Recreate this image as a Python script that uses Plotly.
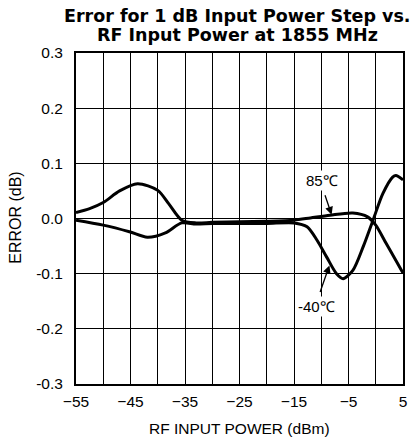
import plotly.graph_objects as go

# Measured error for a 1 dB input power step, RF input power sweep at 1855 MHz
rf_in_85c = [-55, -52.5, -50, -47, -43.7, -40, -38, -35.6, -33, -30, -25, -20, -15, -12,
             -8.4, -4.2, -1.5, 0, 1.9, 3.7, 5]
err_85c = [0.011, 0.018, 0.029, 0.05, 0.063, 0.051, 0.027, -0.003, -0.008, -0.007, -0.006,
           -0.005, -0.003, 0.001, 0.006, 0.01, 0.003, -0.012, -0.045, -0.076, -0.099]

rf_in_m40c = [-55, -50, -45.2, -41.9, -38.6, -35.6, -33, -30, -25, -20, -15, -12.6, -10.8,
              -9, -7.2, -6, -4.2, -2.3, -0.5, 1.3, 3.1, 3.7, 5]
err_m40c = [-0.003, -0.012, -0.024, -0.034, -0.026, -0.008, -0.01, -0.009, -0.009, -0.009,
            -0.008, -0.015, -0.039, -0.07, -0.1, -0.109, -0.094, -0.051, -0.003, 0.045,
            0.075, 0.078, 0.07]

x_ticks = [-55, -45, -35, -25, -15, -5, 5]
y_ticks = [-0.3, -0.2, -0.1, 0.0, 0.1, 0.2, 0.3]
y_tick_text = ["-0.3", "-0.2", "-0.1", "0.0", "0.1", "0.2", "0.3"]

FONT = "Liberation Sans"
TITLE_FONT = "DejaVu Sans"

fig = go.Figure()
for xs, ys in [(rf_in_85c, err_85c), (rf_in_m40c, err_m40c)]:
    fig.add_trace(go.Scatter(
        x=xs, y=ys, mode="lines",
        line=dict(color="black", width=3, shape="spline", smoothing=0.8),
        showlegend=False, hoverinfo="skip",
    ))

fig.update_layout(
    width=419, height=440,
    margin=dict(l=76, r=12, t=53, b=56),
    paper_bgcolor="white", plot_bgcolor="white",
    font=dict(family=FONT, size=15.5, color="black"),
)

fig.update_xaxes(
    range=[-55, 5], tickvals=x_ticks, showgrid=True, gridcolor="black", gridwidth=1,
    minor=dict(dtick=5, tick0=-55, showgrid=True, gridcolor="black", gridwidth=1),
    showline=True, linecolor="black", linewidth=2, mirror=True, ticks="",
    zeroline=False, ticklabelstandoff=2,
    tickfont=dict(family=FONT, size=15.5, color="black"),
)
fig.update_yaxes(
    range=[-0.3, 0.3], tickvals=y_ticks, ticktext=y_tick_text,
    showgrid=True, gridcolor="black", gridwidth=1,
    showline=True, linecolor="black", linewidth=2, mirror=True, ticks="",
    zeroline=False, ticklabelstandoff=8,
    tickfont=dict(family=FONT, size=15.5, color="black"),
)

# Two-line bold title
for text, ypos in [("Error for 1 dB Input Power Step vs.", 1.112),
                   ("RF Input Power at 1855 MHz", 1.0544)]:
    fig.add_annotation(
        xref="paper", yref="paper", x=0.4925, y=ypos, xanchor="center", yanchor="middle",
        text=f"<b>{text}</b>", showarrow=False,
        font=dict(family=TITLE_FONT, size=17.5, color="black"),
    )

# Axis titles
fig.add_annotation(xref="paper", yref="paper", x=0.4985, y=-0.133,
                   xanchor="center", yanchor="middle", text="RF INPUT POWER (dBm)",
                   showarrow=False, font=dict(family=FONT, size=15.5, color="black"))
fig.add_annotation(xref="paper", yref="paper", x=-0.1873, y=0.5015,
                   xanchor="center", yanchor="middle", text="ERROR (dB)", textangle=-90,
                   showarrow=False, font=dict(family=FONT, size=16, color="black"))

# Temperature labels with pointer arrows
fig.add_annotation(x=-9.9, y=0.069, text="85\u2103", showarrow=False,
                   font=dict(family=FONT, size=15, color="black"), bgcolor="white")
fig.add_annotation(x=-8.1, y=0.007, ax=-9.4, ay=0.045, axref="x", ayref="y",
                   text="", showarrow=True, arrowhead=2, arrowsize=1.2,
                   arrowwidth=1.3, arrowcolor="black")
fig.add_annotation(x=-10.8, y=-0.16, text="-40\u2103", showarrow=False,
                   font=dict(family=FONT, size=15, color="black"), bgcolor="white")
fig.add_annotation(x=-8.5, y=-0.085, ax=-10.3, ay=-0.136, axref="x", ayref="y",
                   text="", showarrow=True, arrowhead=2, arrowsize=1.2,
                   arrowwidth=1.3, arrowcolor="black")

fig.write_html("out.html")
